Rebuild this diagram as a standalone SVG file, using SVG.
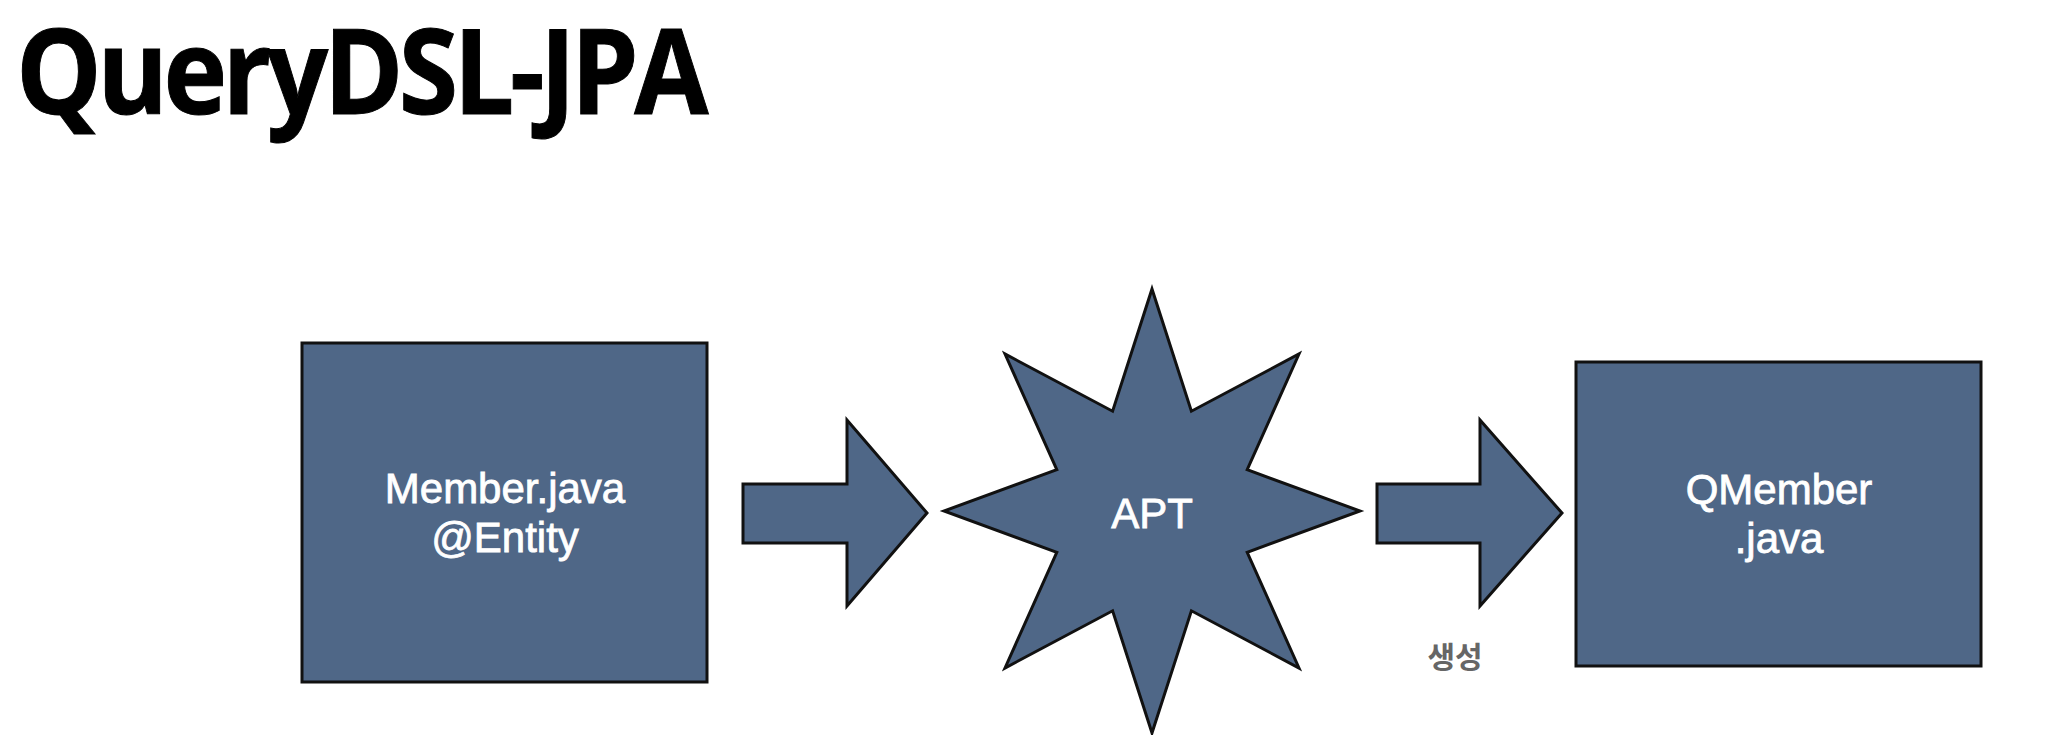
<svg xmlns="http://www.w3.org/2000/svg" width="2056" height="735" viewBox="0 0 2056 735">
  <style>
    .shape { fill: #4f6787; stroke: #111111; stroke-width: 3; stroke-linejoin: miter; }
    .label { font-family: "Liberation Sans", Arial, sans-serif; font-size: 42px; fill: #ffffff; stroke: #ffffff; stroke-width: 0.8; text-anchor: middle; }
    .title { font-family: "Open Sans", "Noto Sans", sans-serif; font-weight: bold; font-size: 118px; letter-spacing: -5px; fill: #000000; stroke: #000000; stroke-width: 1; }
    .note { font-family: "Noto Sans CJK KR", "Noto Sans", sans-serif; font-weight: bold; font-size: 30px; fill: #666666; text-anchor: middle; }
  </style>
  <rect width="2056" height="735" fill="#ffffff"/>
  <text class="title" x="16" y="114" textLength="688" lengthAdjust="spacingAndGlyphs">QueryDSL-JPA</text>

  <g id="member">
    <rect class="shape" x="302" y="343" width="405" height="339"/>
    <text class="label" x="505" y="503">Member.java</text>
    <text class="label" x="505" y="552">@Entity</text>
  </g>

  <g id="apt">
    <polygon class="shape" points="1152,289 1191.4,411.2 1299,354 1247.2,469.7 1360,511 1247.2,552.3 1299,668 1191.4,610.8 1152,733 1112.6,610.8 1005,668 1056.8,552.3 944,511 1056.8,469.7 1005,354 1112.6,411.2"/>
    <text class="label" x="1152" y="528">APT</text>
  </g>

  <g id="qmember">
    <rect class="shape" x="1576" y="362" width="405" height="304"/>
    <text class="label" x="1779" y="504">QMember</text>
    <text class="label" x="1779" y="553">.java</text>
  </g>

  <g id="connectors">
    <polygon class="shape" points="743,484 847,484 847,420 927,513 847,606 847,543 743,543"/>
    <polygon class="shape" points="1377,484 1480,484 1480,420 1562,513 1480,606 1480,543 1377,543"/>
    <text class="note" x="1455" y="668">생성</text>
  </g>
</svg>
